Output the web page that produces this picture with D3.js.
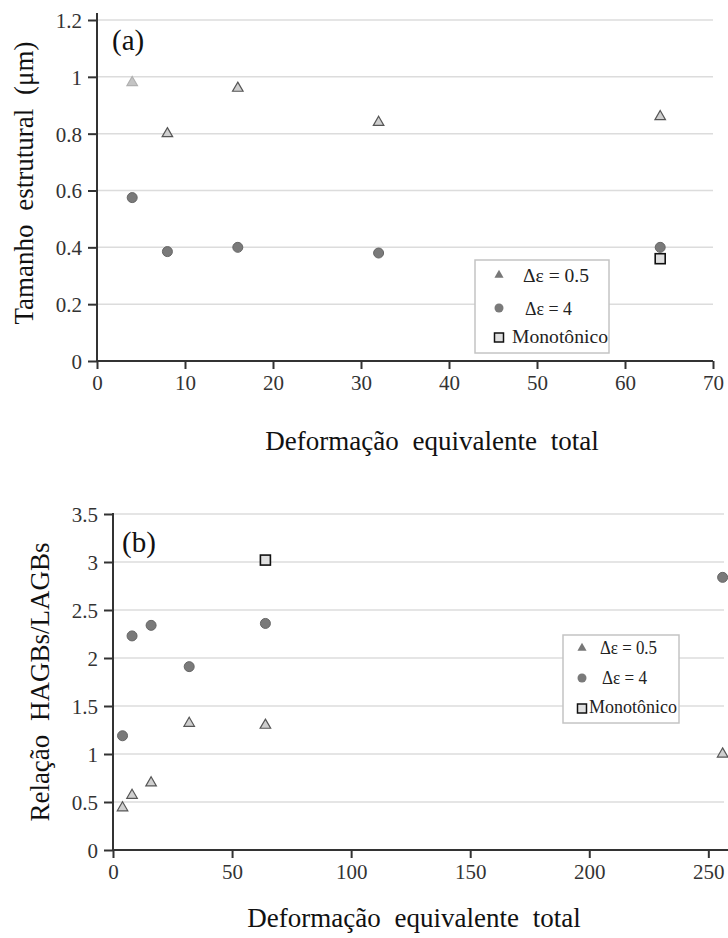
<!DOCTYPE html>
<html>
<head>
<meta charset="utf-8">
<script src="https://cdn.jsdelivr.net/npm/d3@7"></script>
<style>
  body { margin: 0; background: #fff; }
  svg { display: block; }
  svg text { font-family: "Liberation Serif", "Times New Roman", "DejaVu Serif", serif !important; }
  .grid line { stroke: #dcdcdc; stroke-width: 1.5; }
  .axis path, .axis line { stroke: #333; stroke-width: 2; }
  .axis text { fill: #333; font-size: 21px; }
  .title { fill: #111; font-size: 27px; word-spacing: 7px; }
</style>
</head>
<body>
<svg width="728" height="938"></svg>
<script>
// (a) tamanho estrutural
var strainA = [4, 8, 16, 32, 64];
var sizeDe05 = [0.98, 0.80, 0.96, 0.84, 0.86];
var sizeDe4 = [0.575, 0.385, 0.40, 0.38, 0.40];
var sizeMonoX = [64];
var sizeMonoY = [0.36];
var ticksAX = [0, 10, 20, 30, 40, 50, 60, 70];
var ticksAY = [0, 0.2, 0.4, 0.6, 0.8, 1, 1.2];

// (b) relacao HAGBs/LAGBs
var strainB = [4, 8, 16, 32, 64, 256];
var ratioDe05 = [0.44, 0.57, 0.70, 1.32, 1.30, 1.00];
var ratioDe4 = [1.19, 2.23, 2.34, 1.91, 2.36, 2.84];
var ratioMonoX = [64];
var ratioMonoY = [3.02];
var ticksBX = [0, 50, 100, 150, 200, 250];
var ticksBY = [0, 0.5, 1, 1.5, 2, 2.5, 3, 3.5];

var legendLabels = ["\u0394\u03b5 = 0.5", "\u0394\u03b5 = 4", "Monot\u00f4nico"];

var serif = '"Liberation Serif", "Times New Roman", serif';
var svg = d3.select("svg");

var tri = d3.symbol().type(d3.symbolTriangle).size(48);
var triLegend = d3.symbol().type(d3.symbolTriangle).size(36);

function zip(xs, ys) {
    return xs.map(function (x, i) { return { x: x, y: ys[i] }; });
}

function drawPanel(p) {
    var x = d3.scaleLinear().domain(p.xDomain).range(p.xRange);
    var y = d3.scaleLinear().domain(p.yDomain).range(p.yRange);
    var g = svg.append("g");

    // gridlines
    g.append("g")
        .attr("class", "grid")
        .selectAll("line")
        .data(p.yTicks.filter(function (d) { return d > 0; }))
        .enter().append("line")
        .attr("x1", p.xRange[0])
        .attr("x2", p.gridEnd)
        .attr("y1", function (d) { return y(d); })
        .attr("y2", function (d) { return y(d); });

    var xAxis = g.append("g")
        .attr("class", "axis")
        .attr("transform", "translate(0," + p.yRange[0] + ")")
        .call(d3.axisBottom(x).tickValues(p.xTicks).tickSizeInner(8).tickSizeOuter(0).tickPadding(6));
    xAxis.select(".domain").attr("d", "M" + p.xRange[0] + ",0H" + p.axisEnd);

    var yAxis = g.append("g")
        .attr("class", "axis")
        .attr("transform", "translate(" + p.xRange[0] + ",0)")
        .call(d3.axisLeft(y).tickValues(p.yTicks).tickSizeInner(9).tickSizeOuter(0).tickPadding(6)
            .tickFormat(function (d) { return String(d); }));
    yAxis.select(".domain").attr("d", "M0," + p.yRange[0] + "V" + p.axisTop);
    yAxis.selectAll(".tick text").attr("dy", "0.35em");
    g.selectAll(".axis").attr("font-family", serif).attr("font-size", 21);

    // titles
    g.append("text")
        .attr("class", "title")
        .attr("x", p.xTitle[0]).attr("y", p.xTitle[1])
        .attr("text-anchor", "middle")
        .text("Deformação equivalente total");

    g.append("text")
        .attr("class", "title")
        .attr("transform", "translate(" + p.yTitle[0] + "," + p.yTitle[1] + ") rotate(-90)")
        .attr("text-anchor", "middle")
        .text(p.yLabel);

    g.append("text")
        .attr("x", p.panel[0]).attr("y", p.panel[1])
        .style("font-size", "29px")
        .attr("fill", "#111")
        .text(p.panelLabel);

    // points
    var pts = g.append("g");
    pts.selectAll("circle")
        .data(zip(p.strain, p.de4))
        .enter().append("circle")
        .attr("cx", function (d) { return x(d.x); })
        .attr("cy", function (d) { return y(d.y); })
        .attr("r", 5)
        .attr("fill", "#7a7a7a")
        .attr("stroke", "#666")
        .attr("stroke-width", 1);

    pts.selectAll("rect")
        .data(zip(p.monoX, p.monoY))
        .enter().append("rect")
        .attr("x", function (d) { return x(d.x) - 5; })
        .attr("y", function (d) { return y(d.y) - 5; })
        .attr("width", 10).attr("height", 10)
        .attr("fill", "#e0e0e0")
        .attr("stroke", "#111")
        .attr("stroke-width", 1.6);

    pts.selectAll("path")
        .data(zip(p.strain, p.de05))
        .enter().append("path")
        .attr("d", tri)
        .attr("transform", function (d) { return "translate(" + x(d.x) + "," + y(d.y) + ")"; })
        .attr("fill", function (d, i) { return (p.fadeFirst && i === 0) ? "#c4c4c4" : "#cfcfcf"; })
        .attr("stroke", function (d, i) { return (p.fadeFirst && i === 0) ? "#b0b0b0" : "#555"; })
        .attr("stroke-width", 1.2);

    // legend
    var L = p.legend;
    var lg = g.append("g").attr("transform", "translate(" + L.x + "," + L.y + ")");
    lg.append("rect")
        .attr("width", L.w).attr("height", L.h)
        .attr("fill", "#fff")
        .attr("stroke", "#c4c4c4")
        .attr("stroke-width", 1.5);
    lg.append("path")
        .attr("d", triLegend)
        .attr("transform", "translate(" + L.mx + "," + L.rows[0] + ")")
        .attr("fill", "#777");
    lg.append("circle")
        .attr("cx", L.mx).attr("cy", L.rows[1]).attr("r", 4.5)
        .attr("fill", "#7a7a7a");
    lg.append("rect")
        .attr("x", L.mx - 4.5).attr("y", L.rows[2] - 3)
        .attr("width", 9).attr("height", 9)
        .attr("fill", "#e0e0e0").attr("stroke", "#111").attr("stroke-width", 1.5);
    lg.selectAll("text.leg")
        .data(legendLabels)
        .enter().append("text")
        .attr("class", "leg")
        .attr("x", function (d, i) { return L.tx[i]; })
        .attr("y", function (d, i) { return L.rows[i]; })
        .attr("dy", "0.35em")
        .attr("textLength", function (d, i) { return L.tw[i]; })
        .attr("lengthAdjust", "spacingAndGlyphs")
        .style("font-size", L.fs + "px")
        .attr("fill", "#222")
        .text(function (d) { return d; });
}

drawPanel({
    xDomain: [0, 70], xRange: [97, 713],
    yDomain: [0, 1.2], yRange: [361, 20],
    gridEnd: 713, axisEnd: 713, axisTop: 13,
    xTicks: ticksAX, yTicks: ticksAY,
    strain: strainA, de05: sizeDe05, de4: sizeDe4,
    monoX: sizeMonoX, monoY: sizeMonoY, fadeFirst: true,
    xTitle: [432, 450], yTitle: [33, 183],
    yLabel: "Tamanho estrutural (\u03bcm)",
    panel: [112, 50], panelLabel: "(a)",
    legend: { x: 475, y: 260, w: 134, h: 93, mx: 24, rows: [15, 48, 76],
              tx: [48, 50, 37], tw: [66, 47, 96], fs: 19 }
});

drawPanel({
    xDomain: [0, 257], xRange: [113, 725],
    yDomain: [0, 3.5], yRange: [850, 514],
    gridEnd: 724, axisEnd: 728, axisTop: 513,
    xTicks: ticksBX, yTicks: ticksBY,
    strain: strainB, de05: ratioDe05, de4: ratioDe4,
    monoX: ratioMonoX, monoY: ratioMonoY, fadeFirst: false,
    xTitle: [414, 927], yTitle: [49, 682],
    yLabel: "Relação HAGBs/LAGBs",
    panel: [122, 552], panelLabel: "(b)",
    legend: { x: 563, y: 635, w: 116, h: 88, mx: 19, rows: [13, 43, 72],
              tx: [37, 39, 26], tw: [57, 45, 88], fs: 18 }
});
</script>
</body>
</html>
